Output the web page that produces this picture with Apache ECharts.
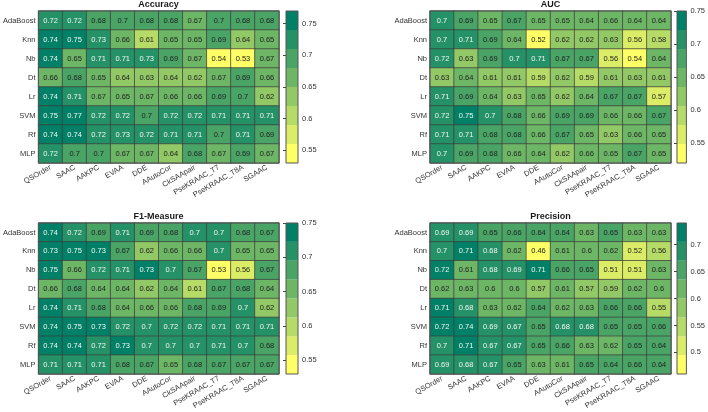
<!DOCTYPE html>
<html>
<head>
<meta charset="utf-8">
<script src="https://cdn.jsdelivr.net/npm/echarts@6/dist/echarts.min.js"></script>
<style>
  html, body { margin: 0; padding: 0; background: #fff; }
  #main { width: 708px; height: 412px; }
</style>
</head>
<body>
<div id="main"></div>
<script>
// classifiers (rows) and feature encodings (columns)
var models = ['AdaBoost', 'Knn', 'Nb', 'Dt', 'Lr', 'SVM', 'Rf', 'MLP'];
var features = ['QSOrder', 'SAAC', 'AAKPC', 'EVAA', 'DDE', 'AAutoCor', 'CkSAApair', 'PseKRAAC_T7', 'PseKRAAC_T8A', 'SGAAC'];

var accuracy = [
    [0.72, 0.72, 0.68, 0.7, 0.68, 0.68, 0.67, 0.7, 0.68, 0.68],
    [0.74, 0.75, 0.73, 0.66, 0.61, 0.65, 0.65, 0.69, 0.64, 0.65],
    [0.74, 0.65, 0.71, 0.71, 0.73, 0.69, 0.67, 0.54, 0.53, 0.67],
    [0.66, 0.68, 0.65, 0.64, 0.63, 0.64, 0.62, 0.67, 0.69, 0.66],
    [0.74, 0.71, 0.67, 0.65, 0.67, 0.66, 0.66, 0.69, 0.7, 0.62],
    [0.75, 0.77, 0.72, 0.72, 0.7, 0.72, 0.72, 0.71, 0.71, 0.71],
    [0.74, 0.74, 0.72, 0.73, 0.72, 0.71, 0.71, 0.7, 0.71, 0.69],
    [0.72, 0.7, 0.7, 0.67, 0.67, 0.64, 0.68, 0.67, 0.69, 0.67]
];
var auc = [
    [0.7, 0.69, 0.65, 0.67, 0.65, 0.65, 0.64, 0.66, 0.64, 0.64],
    [0.7, 0.71, 0.69, 0.64, 0.52, 0.62, 0.62, 0.63, 0.56, 0.58],
    [0.72, 0.63, 0.69, 0.7, 0.71, 0.67, 0.67, 0.56, 0.54, 0.64],
    [0.63, 0.64, 0.61, 0.61, 0.59, 0.62, 0.59, 0.61, 0.63, 0.61],
    [0.71, 0.69, 0.64, 0.63, 0.65, 0.62, 0.64, 0.67, 0.67, 0.57],
    [0.72, 0.75, 0.7, 0.68, 0.66, 0.69, 0.69, 0.66, 0.66, 0.67],
    [0.71, 0.71, 0.68, 0.68, 0.66, 0.67, 0.65, 0.63, 0.66, 0.65],
    [0.7, 0.69, 0.68, 0.66, 0.64, 0.62, 0.66, 0.65, 0.67, 0.65]
];
var f1 = [
    [0.74, 0.72, 0.69, 0.71, 0.69, 0.68, 0.7, 0.7, 0.68, 0.67],
    [0.73, 0.75, 0.73, 0.67, 0.62, 0.66, 0.66, 0.7, 0.65, 0.65],
    [0.75, 0.66, 0.72, 0.71, 0.73, 0.7, 0.67, 0.53, 0.56, 0.67],
    [0.66, 0.68, 0.64, 0.64, 0.62, 0.64, 0.61, 0.67, 0.68, 0.64],
    [0.74, 0.71, 0.68, 0.64, 0.66, 0.66, 0.68, 0.69, 0.7, 0.62],
    [0.74, 0.75, 0.73, 0.72, 0.7, 0.72, 0.72, 0.71, 0.71, 0.71],
    [0.74, 0.74, 0.72, 0.73, 0.7, 0.7, 0.7, 0.71, 0.7, 0.68],
    [0.71, 0.71, 0.71, 0.68, 0.67, 0.65, 0.68, 0.67, 0.67, 0.67]
];
var precision = [
    [0.69, 0.69, 0.65, 0.66, 0.64, 0.64, 0.63, 0.65, 0.63, 0.63],
    [0.7, 0.71, 0.68, 0.62, 0.46, 0.61, 0.6, 0.62, 0.52, 0.56],
    [0.72, 0.61, 0.68, 0.69, 0.71, 0.66, 0.65, 0.51, 0.51, 0.63],
    [0.62, 0.63, 0.6, 0.6, 0.57, 0.61, 0.57, 0.59, 0.62, 0.6],
    [0.71, 0.68, 0.63, 0.62, 0.64, 0.62, 0.63, 0.66, 0.66, 0.55],
    [0.72, 0.74, 0.69, 0.67, 0.65, 0.68, 0.68, 0.65, 0.65, 0.66],
    [0.7, 0.71, 0.67, 0.67, 0.65, 0.66, 0.63, 0.62, 0.65, 0.64],
    [0.69, 0.68, 0.67, 0.65, 0.63, 0.61, 0.65, 0.64, 0.66, 0.64]
];

// colorbar tick labels
var accTicks = [0.55, 0.6, 0.65, 0.7, 0.75];
var aucTicks = [0.55, 0.6, 0.65, 0.7, 0.75];
var f1Ticks = [0.55, 0.6, 0.65, 0.7, 0.75];
var precTicks = [0.5, 0.55, 0.6, 0.65, 0.7];

// 8-step flipped "summer" colormap, lowest band first
var bandColors = ['#ffff66', '#dbed66', '#b6db66', '#92c866', '#6db666', '#49a466', '#249266', '#008066'];
var NB = bandColors.length;

var FONT = 'Liberation Sans';
var panels = [
    {title: 'Accuracy', data: accuracy, ticks: accTicks, left: 38, top: 11, height: 152, cbLeft: 286},
    {title: 'AUC', data: auc, ticks: aucTicks, left: 430, top: 11, height: 152, cbLeft: 677},
    {title: 'F1-Measure', data: f1, ticks: f1Ticks, left: 38, top: 223, height: 151, cbLeft: 286},
    {title: 'Precision', data: precision, ticks: precTicks, left: 430, top: 223, height: 151, cbLeft: 677}
];

var chart = echarts.init(document.getElementById('main'), null, {renderer: 'canvas'});

var titles = [], grids = [], xAxes = [], yAxes = [], series = [], visualMaps = [];

panels.forEach(function(p, k) {
    var flat = [].concat.apply([], p.data);
    var lo = Math.min.apply(null, flat);
    var hi = Math.max.apply(null, flat);
    var step = (hi - lo) / NB;
    var band = function(v) {
        return Math.max(0, Math.min(NB - 1, Math.floor((v - lo) / step + 1e-9)));
    };

    titles.push({
        text: p.title,
        left: p.left + 120.5,
        top: p.top - 11,
        textAlign: 'center',
        padding: 0,
        textStyle: {fontFamily: FONT, fontSize: 9, fontWeight: 'bold', color: '#1a1a1a'}
    });

    // heatmap grid
    grids.push({
        left: p.left, top: p.top, width: 241, height: p.height,
        show: true, borderColor: '#555', borderWidth: 1, z: 10, backgroundColor: 'transparent'
    });
    xAxes.push({
        type: 'category', gridIndex: 2 * k, data: features,
        axisLine: {show: false}, axisTick: {show: false}, splitLine: {show: false},
        axisLabel: {rotate: 30, margin: 4, fontFamily: FONT, fontSize: 7.5, color: '#333', interval: 0}
    });
    yAxes.push({
        type: 'category', gridIndex: 2 * k, data: models, inverse: true,
        axisLine: {show: false}, axisTick: {show: false}, splitLine: {show: false},
        axisLabel: {margin: 3, fontFamily: FONT, fontSize: 7.5, color: '#333'}
    });

    var cells = [];
    p.data.forEach(function(row, r) {
        row.forEach(function(v, c) {
            cells.push({
                value: [c, r, v],
                label: {color: band(v) >= NB - 2 ? '#f4f4f4' : '#222'}
            });
        });
    });
    series.push({
        type: 'heatmap',
        xAxisIndex: 2 * k, yAxisIndex: 2 * k,
        data: cells,
        label: {show: true, fontFamily: FONT, fontSize: 7.5, formatter: function(d) { return String(d.value[2]); }},
        itemStyle: {borderColor: '#3c3c3c', borderWidth: 0.7},
        emphasis: {disabled: true}
    });

    var pieces = bandColors.map(function(col, i) {
        var pc = {gte: lo + i * step - 1e-9, color: col};
        if (i < NB - 1) pc.lt = lo + (i + 1) * step - 1e-9;
        return pc;
    });
    visualMaps.push({type: 'piecewise', show: false, seriesIndex: 2 * k, dimension: 2, pieces: pieces});

    // colorbar grid
    grids.push({
        left: p.cbLeft, top: p.top, width: 12, height: p.height,
        show: true, borderColor: '#555', borderWidth: 1, z: 10, backgroundColor: 'transparent'
    });
    xAxes.push({type: 'value', gridIndex: 2 * k + 1, min: 0, max: 1, show: false});
    yAxes.push({
        type: 'value', gridIndex: 2 * k + 1, min: lo, max: hi, position: 'right',
        axisLine: {show: false}, splitLine: {show: false},
        axisTick: {show: true, inside: true, length: 3, customValues: p.ticks, lineStyle: {color: '#444'}},
        axisLabel: {customValues: p.ticks, margin: 4, fontFamily: FONT, fontSize: 7.5, color: '#333',
            formatter: function(v) { return String(+v.toFixed(2)); }}
    });
    var segs = bandColors.map(function(col, i) {
        return [0.5, lo + i * step, lo + (i + 1) * step, i];
    });
    series.push({
        type: 'custom',
        xAxisIndex: 2 * k + 1, yAxisIndex: 2 * k + 1,
        data: segs,
        encode: {x: 0, y: [1, 2]},
        silent: true,
        renderItem: function(params, api) {
            var a = api.coord([0, api.value(2)]);
            var b = api.coord([1, api.value(1)]);
            return {
                type: 'rect',
                shape: {x: a[0], y: a[1], width: b[0] - a[0], height: b[1] - a[1]},
                style: {fill: bandColors[api.value(3)]}
            };
        }
    });
});

chart.setOption({
    animation: false,
    backgroundColor: '#fff',
    title: titles,
    grid: grids,
    xAxis: xAxes,
    yAxis: yAxes,
    visualMap: visualMaps,
    series: series
});
</script>
</body>
</html>
